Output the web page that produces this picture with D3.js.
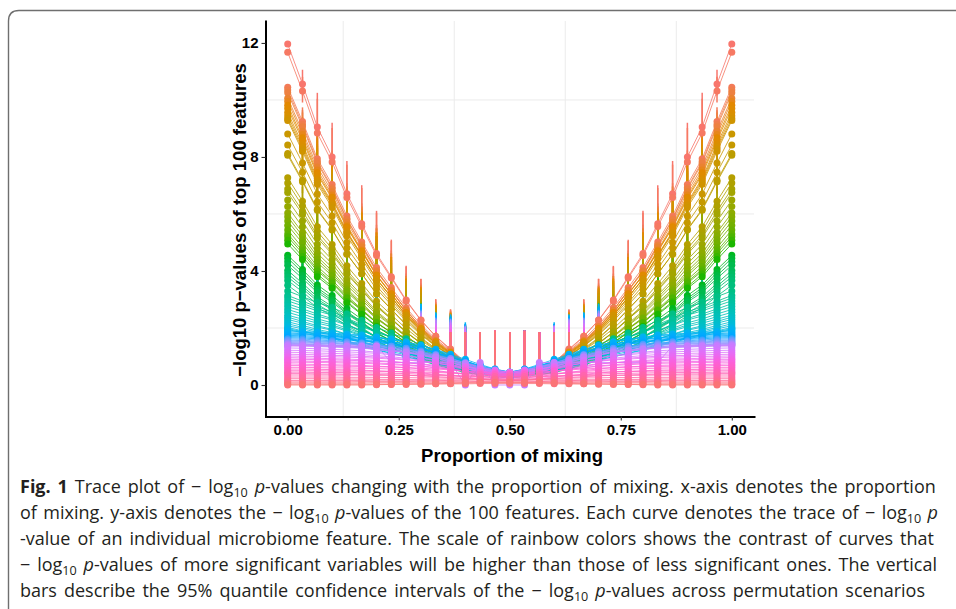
<!DOCTYPE html>
<html>
<head>
<meta charset="utf-8">
<script src="https://cdn.jsdelivr.net/npm/d3@7"></script>
<style>
    body { margin: 0; background: #fff; }
    svg { display: block; }
</style>
</head>
<body>
<div id="wrapper"></div>
<script>
// proportion of mixing (31 steps)
const mixing = [0, 0.0333, 0.0667, 0.1, 0.1333, 0.1667, 0.2, 0.2333, 0.2667, 0.3, 0.3333, 0.3667, 0.4, 0.4333, 0.4667, 0.5,
    0.5333, 0.5667, 0.6, 0.6333, 0.6667, 0.7, 0.7333, 0.7667, 0.8, 0.8333, 0.8667, 0.9, 0.9333, 0.9667, 1];

// -log10 p of the 100 features, read at proportions 0 ... 0.5 (the right half is the mirror image);
// rows of 31 values are given in full. Row order = significance order (colour order).
const traces = [
    [11.96,10.56,9.05,8.0,6.71,5.66,4.61,3.8,2.98,2.28,1.7,1.23,0.77,0.53,0.42,0.3],
    [11.67,10.31,8.84,7.82,6.58,5.56,4.54,3.75,2.95,2.27,1.71,1.26,0.8,0.58,0.46,0.35],
    [10.45,9.24,7.94,7.03,5.93,5.02,4.12,3.42,2.71,2.11,1.61,1.2,0.8,0.6,0.5,0.4],
    [10.35,9.14,7.84,6.93,5.83,4.92,4.02,3.32,2.61,2.01,1.51,1.1,0.7,0.5,0.4,0.3],
    [10.25,9.06,7.78,6.88,5.8,4.9,4.01,3.32,2.63,2.03,1.54,1.14,0.75,0.55,0.45,0.35],
    [10.06,8.9,7.65,6.78,5.71,4.84,3.97,3.3,2.62,2.04,1.56,1.17,0.79,0.59,0.5,0.4],
    [9.95,8.79,7.54,6.67,5.61,4.74,3.87,3.2,2.52,1.94,1.46,1.07,0.69,0.49,0.4,0.3],
    [9.81,8.67,7.45,6.59,5.55,4.7,3.85,3.19,2.53,1.96,1.49,1.11,0.73,0.54,0.44,0.35],
    [9.7,8.58,7.38,6.54,5.52,4.68,3.84,3.19,2.54,1.98,1.52,1.14,0.77,0.59,0.49,0.4],
    [9.56,8.45,7.25,6.41,5.39,4.56,3.73,3.08,2.43,1.87,1.41,1.04,0.67,0.49,0.39,0.3],
    [9.45,8.36,7.18,6.36,5.35,4.54,3.72,3.08,2.44,1.9,1.44,1.08,0.71,0.53,0.44,0.35],
    [9.35,8.28,7.11,6.31,5.32,4.52,3.71,3.09,2.46,1.92,1.47,1.12,0.76,0.58,0.49,0.4],
    [9.28,8.2,7.04,6.23,5.24,4.43,3.62,2.99,2.37,1.83,1.38,1.02,0.66,0.48,0.39,0.3],
    [8.81,7.79,6.7,5.93,5.0,4.24,3.48,2.89,2.3,1.79,1.37,1.03,0.69,0.52,0.43,0.35],
    [8.42,7.46,6.42,5.69,4.81,4.09,3.37,2.81,2.24,1.76,1.36,1.04,0.72,0.56,0.48,0.4],
    [8.12,7.18,6.17,5.46,4.6,3.9,3.19,2.65,2.1,1.63,1.24,0.93,0.61,0.46,0.38,0.3],
    [8.06,7.13,6.13,5.44,4.59,3.9,3.2,2.66,2.12,1.66,1.28,0.97,0.66,0.5,0.43,0.35],
    [7.27,6.45,5.55,4.93,4.18,3.56,2.94,2.46,1.98,1.57,1.22,0.95,0.67,0.54,0.47,0.4],
    [7.09,6.28,5.39,4.78,4.03,3.42,2.81,2.34,1.86,1.45,1.11,0.84,0.57,0.44,0.37,0.3],
    [6.88,6.1,5.25,4.66,3.94,3.35,2.77,2.31,1.85,1.46,1.13,0.87,0.61,0.48,0.42,0.35],
    [6.75,5.99,5.16,4.59,3.89,3.32,2.75,2.31,1.86,1.48,1.16,0.91,0.65,0.53,0.46,0.4],
    [6.49,5.75,4.94,4.39,3.7,3.15,2.59,2.16,1.72,1.35,1.04,0.8,0.55,0.42,0.36,0.3],
    [6.26,5.55,4.78,4.25,3.6,3.07,2.54,2.12,1.71,1.35,1.06,0.82,0.59,0.47,0.41,0.35],
    [6.03,5.35,4.62,4.12,3.5,2.99,2.48,2.09,1.69,1.36,1.08,0.85,0.63,0.51,0.46,0.4],
    [5.9,5.23,4.5,4.0,3.38,2.88,2.37,1.98,1.59,1.25,0.97,0.75,0.52,0.41,0.36,0.3],
    [5.75,5.1,4.4,3.91,3.32,2.83,2.35,1.97,1.59,1.27,1.0,0.78,0.57,0.46,0.4,0.35],
    [5.6,4.98,4.3,3.83,3.26,2.79,2.32,1.96,1.6,1.28,1.02,0.82,0.61,0.5,0.45,0.4],
    [5.44,4.82,4.16,3.69,3.13,2.66,2.2,1.84,1.48,1.17,0.92,0.71,0.51,0.4,0.35,0.3],
    [5.3,4.71,4.06,3.62,3.07,2.63,2.18,1.84,1.49,1.19,0.94,0.75,0.55,0.45,0.4,0.35],
    [5.2,4.62,4.0,3.57,3.04,2.61,2.18,1.84,1.5,1.22,0.98,0.78,0.59,0.5,0.45,0.4],
    [5.08,4.51,3.89,3.45,2.93,2.5,2.07,1.73,1.4,1.11,0.87,0.68,0.49,0.4,0.35,0.3],
    [4.95,4.4,3.8,3.39,2.88,2.47,2.05,1.73,1.41,1.13,0.9,0.72,0.53,0.44,0.4,0.35],
    [4.55,4.05,3.51,3.14,2.68,2.31,1.94,1.65,1.35,1.11,0.9,0.73,0.57,0.48,0.44,0.4],
    [4.45,3.95,3.41,3.04,2.58,2.21,1.84,1.55,1.25,1.01,0.8,0.63,0.47,0.38,0.34,0.3],
    [4.32,3.84,3.33,2.97,2.53,2.18,1.82,1.54,1.26,1.02,0.83,0.67,0.51,0.43,0.39,0.35],
    [4.2,3.74,3.25,2.91,2.49,2.15,1.81,1.54,1.27,1.05,0.86,0.7,0.55,0.48,0.44,0.4],
    [4.02,3.57,3.09,2.76,2.35,2.01,1.68,1.42,1.16,0.93,0.75,0.6,0.45,0.37,0.34,0.3],
    [3.9,3.47,3.01,2.69,2.3,1.98,1.66,1.42,1.17,0.95,0.78,0.63,0.49,0.42,0.39,0.35],
    [3.79,3.38,2.94,2.64,2.26,1.96,1.65,1.42,1.18,0.98,0.81,0.67,0.54,0.47,0.43,0.4],
    [3.67,3.27,2.83,2.52,2.15,1.85,1.55,1.31,1.08,0.87,0.7,0.57,0.43,0.37,0.33,0.3],
    [3.5,3.12,2.71,2.43,2.08,1.8,1.52,1.3,1.07,0.89,0.73,0.6,0.48,0.41,0.38,0.35],
    [3.3,3.1,2.89,2.72,2.49,2.26,2.02,1.82,1.62,1.42,1.21,1.01,0.81,0.63,0.49,0.4],
    [3.14,2.94,2.74,2.57,2.34,2.12,1.89,1.69,1.49,1.29,1.1,0.9,0.7,0.53,0.39,0.3],
    [3.05,2.86,2.67,2.51,2.29,2.08,1.86,1.67,1.48,1.3,1.11,0.92,0.73,0.57,0.43,0.35],
    [2.95,2.78,2.6,2.45,2.25,2.05,1.85,1.68,1.5,1.33,1.15,0.98,0.8,0.65,0.53,0.45],
    [2.85,2.67,2.49,2.33,2.12,1.91,1.71,1.52,1.34,1.16,0.98,0.8,0.61,0.46,0.33,0.25],
    [2.75,2.59,2.42,2.28,2.09,1.9,1.72,1.55,1.39,1.22,1.06,0.89,0.73,0.59,0.47,0.4],
    [2.65,2.49,2.32,2.18,1.99,1.8,1.62,1.45,1.29,1.12,0.96,0.79,0.63,0.49,0.37,0.3],
    [2.55,2.4,2.24,2.11,1.93,1.76,1.58,1.43,1.27,1.12,0.97,0.81,0.66,0.53,0.42,0.35],
    [2.45,2.31,2.17,2.05,1.89,1.73,1.57,1.43,1.29,1.15,1.01,0.87,0.73,0.61,0.51,0.45],
    [2.38,2.23,2.08,1.95,1.78,1.61,1.44,1.29,1.14,1.0,0.85,0.7,0.55,0.42,0.31,0.25],
    [2.3,2.17,2.03,1.92,1.77,1.62,1.46,1.33,1.2,1.07,0.93,0.8,0.67,0.55,0.46,0.4],
    [2.22,2.09,1.95,1.84,1.68,1.53,1.38,1.24,1.11,0.97,0.84,0.7,0.57,0.45,0.36,0.3],
    [2.15,2.02,1.9,1.79,1.65,1.5,1.36,1.23,1.11,0.98,0.85,0.73,0.6,0.49,0.4,0.35],
    [2.08,1.97,1.85,1.75,1.62,1.49,1.36,1.25,1.13,1.02,0.91,0.79,0.68,0.58,0.5,0.45],
    [2.02,1.9,1.77,1.67,1.52,1.38,1.24,1.12,0.99,0.87,0.75,0.62,0.5,0.39,0.3,0.25],
    [1.98,1.87,1.76,1.66,1.54,1.41,1.28,1.17,1.06,0.95,0.84,0.73,0.62,0.53,0.45,0.4],
    [1.95,1.83,1.72,1.62,1.49,1.36,1.22,1.11,0.99,0.88,0.76,0.65,0.53,0.43,0.35,0.3],
    [1.9,1.88,1.85,1.82,1.79,1.75,1.68,1.61,1.51,1.39,1.23,1.05,0.85,0.64,0.47,0.35],
    [1.86,1.85,1.82,1.79,1.76,1.72,1.66,1.59,1.51,1.39,1.25,1.08,0.9,0.72,0.56,0.45],
    [1.82,1.8,1.77,1.74,1.71,1.66,1.6,1.52,1.43,1.3,1.14,0.96,0.75,0.55,0.38,0.25],
    [1.78,1.77,1.74,1.71,1.68,1.64,1.59,1.52,1.44,1.32,1.19,1.02,0.84,0.66,0.51,0.4],
    [1.74,1.73,1.7,1.67,1.64,1.6,1.54,1.47,1.38,1.26,1.12,0.95,0.76,0.57,0.42,0.3],
    [1.7,1.69,1.66,1.63,1.61,1.57,1.51,1.44,1.36,1.25,1.12,0.96,0.78,0.61,0.46,0.35],
    [1.66,1.65,1.62,1.6,1.58,1.54,1.49,1.43,1.36,1.26,1.14,0.99,0.84,0.68,0.55,0.45],
    [1.62,1.61,1.58,1.55,1.52,1.48,1.43,1.36,1.28,1.17,1.03,0.87,0.69,0.51,0.36,0.25],
    [1.58,1.57,1.54,1.52,1.5,1.46,1.41,1.36,1.29,1.19,1.07,0.93,0.78,0.62,0.49,0.4],
    [1.55,1.54,1.51,1.49,1.46,1.43,1.38,1.31,1.24,1.14,1.01,0.86,0.7,0.54,0.4,0.3],
    [1.52,1.51,1.48,1.46,1.44,1.4,1.36,1.3,1.23,1.13,1.02,0.88,0.72,0.57,0.44,0.35],
    [1.49,1.48,1.46,1.44,1.42,1.39,1.34,1.29,1.23,1.15,1.04,0.92,0.78,0.65,0.53,0.45],
    [1.46,1.45,1.42,1.4,1.38,1.34,1.29,1.23,1.16,1.06,0.94,0.79,0.64,0.48,0.35,0.25],
    [1.44,1.43,1.41,1.39,1.37,1.34,1.29,1.24,1.18,1.1,0.99,0.87,0.73,0.6,0.48,0.4],
    [1.42,1.41,1.39,1.36,1.34,1.31,1.26,1.21,1.14,1.05,0.94,0.8,0.66,0.51,0.39,0.3],
    [1.4,1.39,1.37,1.35,1.33,1.3,1.25,1.2,1.14,1.05,0.95,0.82,0.69,0.55,0.43,0.35],
    [1.38,1.37,1.35,1.33,1.31,1.29,1.25,1.2,1.15,1.07,0.98,0.87,0.75,0.63,0.52,0.45],
    [1.37,1.37,1.37,1.37,1.37,1.37,1.37,0.79,0.79,0.79,0.79,0.79,0,0.79,0,0,0,0.79,0.79,0.79,0.79,0.79,0.79,0.79,0.79,0.79,1.37,1.37,1.37,1.37,1.37],
    [1.3,1.29,1.27,1.25,1.23,1.2,1.15,1.1,1.04,0.95,0.85,0.72,0.59,0.45,0.33,0.25],
    [1.22,1.21,1.2,1.18,1.16,1.14,1.11,1.06,1.02,0.95,0.87,0.77,0.66,0.56,0.47,0.4],
    [1.15,1.14,1.12,1.11,1.09,1.07,1.03,0.99,0.94,0.87,0.78,0.68,0.57,0.46,0.37,0.3],
    [1.08,1.07,1.06,1.04,1.03,1.01,0.98,0.94,0.9,0.84,0.77,0.68,0.58,0.49,0.41,0.35],
    [1.02,1.01,1.0,0.99,0.98,0.96,0.94,0.91,0.88,0.83,0.77,0.71,0.63,0.56,0.5,0.45],
    [0.96,0.95,0.94,0.92,0.91,0.89,0.86,0.83,0.78,0.73,0.65,0.57,0.48,0.38,0.31,0.25],
    [0.9,0.9,0.89,0.88,0.87,0.85,0.83,0.81,0.78,0.74,0.69,0.63,0.56,0.5,0.44,0.4],
    [0.85,0.84,0.83,0.82,0.81,0.8,0.77,0.75,0.71,0.67,0.61,0.55,0.48,0.4,0.34,0.3],
    [0.8,0.8,0.79,0.78,0.77,0.76,0.74,0.71,0.69,0.65,0.61,0.55,0.49,0.44,0.39,0.35],
    [0.74,0.73,0.72,0.71,0.7,0.69,0.66,0.64,0.61,0.56,0.51,0.44,0.37,0.3,0.24,0.2],
    [0.68,0.68,0.67,0.67,0.66,0.65,0.64,0.63,0.61,0.59,0.56,0.53,0.49,0.45,0.42,0.4],
    [0.62,0.62,0.61,0.6,0.6,0.59,0.58,0.56,0.54,0.51,0.48,0.44,0.4,0.36,0.33,0.3],
    [0.56,0.56,0.55,0.54,0.53,0.52,0.5,0.48,0.46,0.42,0.38,0.33,0.28,0.23,0.18,0.15],
    [0.5,0.5,0.5,0.49,0.49,0.49,0.48,0.47,0.46,0.45,0.44,0.42,0.4,0.38,0.36,0.35],
    [0.45,0.45,0.44,0.44,0.44,0.43,0.42,0.41,0.4,0.38,0.36,0.34,0.31,0.29,0.27,0.25],
    [0.4,0.4,0.39,0.39,0.38,0.38,0.37,0.35,0.34,0.32,0.29,0.26,0.23,0.2,0.17,0.15],
    [0.35,0.35,0.35,0.35,0.35,0.35,0.34,0.34,0.34,0.33,0.33,0.32,0.32,0.31,0.3,0.3],
    [0.28,0.28,0.28,0.28,0.27,0.27,0.27,0.26,0.26,0.25,0.25,0.24,0.23,0.22,0.21,0.2],
    [0.22,0.22,0.22,0.21,0.21,0.21,0.2,0.2,0.19,0.18,0.17,0.15,0.14,0.12,0.11,0.1],
    [0.16,0.16,0.16,0.16,0.16,0.16,0.17,0.17,0.17,0.17,0.18,0.18,0.19,0.19,0.2,0.2],
    [0.11,0.11,0.11,0.11,0.11,0.12,0.12,0.12,0.12,0.13,0.13,0.13,0.14,0.14,0.15,0.15],
    [0.07,0.07,0.07,0.07,0.07,0.07,0.08,0.08,0.08,0.08,0.08,0.09,0.09,0.1,0.1,0.1],
    [0.03,0.03,0.03,0.03,0.03,0.03,0.03,0.03,0.04,0.04,0.04,0.04,0.04,0.05,0.05,0.05],
    [0,0,0,0,0,0,0.01,0.02,0.02,0.03,0.04,0.05,0.07,0.08,0.09,0.1]
];

// 95% interval bars: reach above each trace, and upper limit of the null features (proportions 0 ... 0.5)
const ciSpread = [0, 0.5, 1.2, 1.2, 1.15, 1.35, 1.5, 1.3, 1.2, 1.45, 1.3, 1.4, 1.3, 0.9, 0.8, 0.8];
const ciNullTop = [0, 1.6, 1.7, 1.75, 1.8, 1.8, 1.85, 1.85, 1.85, 1.85, 1.85, 1.85, 1.85, 1.85, 1.9, 1.85];

const xTicks = [0, 0.25, 0.5, 0.75, 1];
const xTickLabels = ["0.00", "0.25", "0.50", "0.75", "1.00"];
const yTicks = [0, 4, 8, 12];
const xGrid = [0.125, 0.375, 0.625, 0.875];
const yGrid = [2, 6, 10];

const captionLines = [
    [["Fig. 1", "b"], ["  Trace plot of \u2212 log", ""], ["10", "sub"], [" ", ""], ["p", "i"], ["-values changing with the proportion of mixing. x-axis denotes the proportion", ""]],
    [["of mixing. y-axis denotes the \u2212 log", ""], ["10", "sub"], [" ", ""], ["p", "i"], ["-values of the 100 features. Each curve denotes the trace of \u2212 log", ""], ["10", "sub"], [" ", ""], ["p", "i"]],
    [["-value of an individual microbiome feature. The scale of rainbow colors shows the contrast of curves that", ""]],
    [["\u2212 log", ""], ["10", "sub"], [" ", ""], ["p", "i"], ["-values of more significant variables will be higher than those of less significant ones. The vertical", ""]],
    [["bars describe the 95% quantile confidence intervals of the \u2212 log", ""], ["10", "sub"], [" ", ""], ["p", "i"], ["-values across permutation scenarios", ""]]
];
const captionRight = [938, 938, 934, 937, 925];

// ggplot-like hue colour (polar CIE-LUV -> sRGB)
function hclColor(h, c, l) {
    let hr = h * Math.PI / 180;
    let U = c * Math.cos(hr), V = c * Math.sin(hr);
    let Y = 100 * (l > 7.999592 ? Math.pow((l + 16) / 116, 3) : l / 903.3);
    let u = U / (13 * l) + 0.1978398;
    let v = V / (13 * l) + 0.4683363;
    let X = 9 * Y * u / (4 * v);
    let Z = -X / 3 - 5 * Y + 3 * Y / v;
    let g = t => {
        t = t / 100;
        t = t > 0.00304 ? 1.055 * Math.pow(t, 1 / 2.4) - 0.055 : 12.92 * t;
        return Math.round(Math.max(0, Math.min(1, t)) * 255);
    };
    return `rgb(${g(3.240479 * X - 1.537150 * Y - 0.498535 * Z)},${g(-0.969256 * X + 1.875992 * Y + 0.041556 * Z)},${g(0.055648 * X - 0.204043 * Y + 1.057311 * Z)})`;
}

function full(row) {
    return mixing.map((m, k) => row.length === 31 ? row[k] : row[k <= 15 ? k : 30 - k]);
}

let wSvg = 956;
let hSvg = 609;

let svg = d3.select("#wrapper")
    .append("svg")
    .attr("width", wSvg)
    .attr("height", hSvg);

svg.append("rect").attr("width", wSvg).attr("height", hSvg).attr("fill", "#fff");

// card outline
svg.append("path")
    .attr("d", "M8.5,609 L8.5,21 Q8.5,10.5 19,10.5 L956,10.5")
    .attr("fill", "none")
    .attr("stroke", "#6f6f6f")
    .attr("stroke-width", 1.4);

let x = d3.scaleLinear().domain([-0.05, 1.05]).range([265.5, 754]);
let y = d3.scaleLinear().domain([-1.105, 12.77]).range([416.5, 21]);

// grid
svg.append("g").selectAll("line")
    .data(xGrid)
    .enter()
    .append("line")
    .attr("x1", d => x(d)).attr("x2", d => x(d))
    .attr("y1", y.range()[0]).attr("y2", y.range()[1])
    .attr("stroke", "#ebebeb").attr("stroke-width", 1);

svg.append("g").selectAll("line")
    .data(yGrid)
    .enter()
    .append("line")
    .attr("x1", x.range()[0]).attr("x2", x.range()[1])
    .attr("y1", d => y(d)).attr("y2", d => y(d))
    .attr("stroke", "#ebebeb").attr("stroke-width", 1);

let series = traces.map((row, i) => ({
    rank: i,
    color: hclColor(15 + 3.6 * i, 100, 65),
    values: full(row)
}));
let spread = full(ciSpread);
let nullTop = full(ciNullTop);

let line = d3.line()
    .x((d, k) => x(mixing[k]))
    .y(d => y(d));

svg.append("g").selectAll("path")
    .data(series)
    .enter()
    .append("path")
    .attr("d", d => line(d.values))
    .attr("fill", "none")
    .attr("stroke", d => d.color)
    .attr("stroke-width", 0.9)
    .attr("stroke-opacity", 0.9);

// interval bars
let bars = [];
series.forEach(s => {
    s.values.forEach((v, k) => {
        if (spread[k] === 0) return;
        let hi = Math.max(v + spread[k], nullTop[k]);
        let lo = Math.max(0, v - spread[k] * 0.8);
        bars.push({ k: k, lo: lo, hi: hi, color: s.color });
    });
});

svg.append("g").selectAll("line")
    .data(bars)
    .enter()
    .append("line")
    .attr("x1", d => x(mixing[d.k])).attr("x2", d => x(mixing[d.k]))
    .attr("y1", d => y(d.lo)).attr("y2", d => y(d.hi))
    .attr("stroke", d => d.color)
    .attr("stroke-width", 1.5);

// points
let gPts = svg.append("g");
series.forEach(s => {
    gPts.append("g").selectAll("circle")
        .data(s.values)
        .enter()
        .append("circle")
        .attr("cx", (d, k) => x(mixing[k]))
        .attr("cy", d => y(d))
        .attr("r", 3.5)
        .attr("fill", s.color);
});

// axes
let yAxis = d3.axisLeft(y)
    .tickValues(yTicks)
    .tickFormat(d3.format("d"))
    .tickSizeInner(4)
    .tickSizeOuter(0)
    .tickPadding(3);

let xAxis = d3.axisBottom(x)
    .tickValues(xTicks)
    .tickFormat((d, i) => xTickLabels[i])
    .tickSizeInner(4)
    .tickSizeOuter(0)
    .tickPadding(4);

let gy = svg.append("g").attr("transform", `translate(${x.range()[0]},0)`).call(yAxis);
let gx = svg.append("g").attr("transform", `translate(0,${y.range()[0]})`).call(xAxis);

[gx, gy].forEach(g => {
    g.select(".domain").attr("stroke", "#000").attr("stroke-width", 2).attr("stroke-linecap", "square");
    g.selectAll(".tick line").attr("stroke", "#333").attr("stroke-width", 1.1);
    g.selectAll(".tick text")
        .attr("fill", "#000")
        .style("font-family", "'Liberation Sans', Arial, sans-serif")
        .style("font-weight", "bold")
        .style("font-size", "15px");
});

// axis titles
svg.append("text")
    .attr("x", 512)
    .attr("y", 462)
    .attr("text-anchor", "middle")
    .style("font-family", "'Liberation Sans', Arial, sans-serif")
    .style("font-weight", "bold")
    .style("font-size", "18.5px")
    .text("Proportion of mixing");

svg.append("text")
    .attr("transform", "translate(246,220) rotate(-90)")
    .attr("text-anchor", "middle")
    .style("font-family", "'Liberation Sans', Arial, sans-serif")
    .style("font-weight", "bold")
    .style("font-size", "18.5px")
    .text("\u2212log10 p\u2212values of top 100 features");

// caption
let capFont = 18;
let capTexts = captionLines.map((segs, i) => {
    let t = svg.append("text")
        .attr("x", 20)
        .attr("y", 493 + i * 26)
        .attr("fill", "#231f20")
        .style("font-family", "'Open Sans', 'Noto Sans', sans-serif")
        .style("font-size", capFont + "px");
    segs.forEach(([txt, st]) => {
        let ts = t.append("tspan").text(txt);
        if (st === "b") ts.style("font-weight", "bold");
        if (st === "i") ts.style("font-style", "italic");
        if (st === "sub") ts.classed("sub", true).style("font-size", (capFont * 0.7) + "px").attr("dy", 4);
        else if (ts.node().previousSibling && d3.select(ts.node().previousSibling).classed("sub")) ts.attr("dy", -4);
    });
    return t;
});

// shrink the caption font to fit the widest line, then justify each line to its right edge
let widest = d3.max(capTexts, (t, i) => t.node().getComputedTextLength() / (captionRight[i] - 20));
if (widest > 0.99) {
    capFont = capFont * 0.99 / widest;
    capTexts.forEach(t => {
        t.style("font-size", capFont + "px");
        t.selectAll("tspan.sub").style("font-size", (capFont * 0.7) + "px");
    });
}
capTexts.forEach((t, i) => {
    let natural = t.node().getComputedTextLength();
    let spaces = t.text().split(" ").length - 1;
    t.style("word-spacing", ((captionRight[i] - 20 - natural) / spaces) + "px");
});
</script>
</body>
</html>
